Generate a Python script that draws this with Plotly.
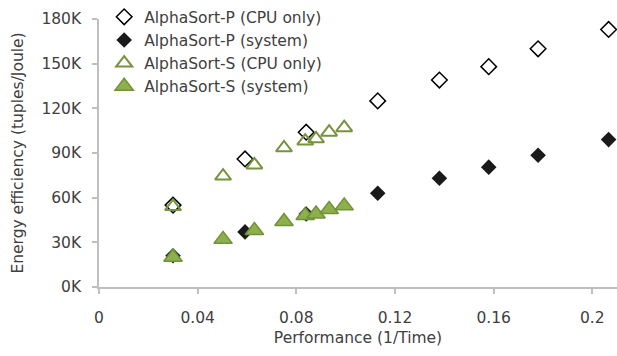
import plotly.graph_objects as go

p_cpu_x = [0.030, 0.0592, 0.084, 0.113, 0.138, 0.158, 0.178, 0.2066]
p_cpu_y = [55, 86, 104, 125, 139, 148, 160, 173]
p_sys_x = [0.030, 0.0592, 0.084, 0.113, 0.138, 0.158, 0.178, 0.2066]
p_sys_y = [21, 37, 49, 63, 73, 80.5, 88.5, 99]
s_cpu_x = [0.030, 0.0503, 0.063, 0.075, 0.0836, 0.088, 0.0933, 0.0994]
s_cpu_y = [54, 74.5, 82, 93.5, 98, 99.5, 104, 107]
s_sys_x = [0.030, 0.0503, 0.063, 0.075, 0.0836, 0.088, 0.0933, 0.0994]
s_sys_y = [20, 32, 38, 44, 48, 49, 52, 54.5]

x_ticks = [0, 0.04, 0.08, 0.12, 0.16, 0.2]
x_tick_labels = ["0", "0.04", "0.08", "0.12", "0.16", "0.2"]
y_ticks = [0, 30, 60, 90, 120, 150, 180]
y_tick_labels = ["0K", "30K", "60K", "90K", "120K", "150K", "180K"]

FONT = "DejaVu Sans"
FS = 15.5
fig = go.Figure()
fig.add_trace(go.Scatter(x=p_cpu_x, y=p_cpu_y, mode="markers", name="AlphaSort-P (CPU only)", cliponaxis=False,
                         marker=dict(symbol="diamond-open", size=12, color="#000000", line=dict(width=1.5))))
fig.add_trace(go.Scatter(x=p_sys_x, y=p_sys_y, mode="markers", name="AlphaSort-P (system)", cliponaxis=False,
                         marker=dict(symbol="diamond", size=12, color="#1a1a1a")))
fig.add_trace(go.Scatter(x=s_cpu_x, y=s_cpu_y, mode="markers", name="AlphaSort-S (CPU only)", cliponaxis=False,
                         marker=dict(symbol="triangle-up-open", size=14, color="#77933C", line=dict(width=2))))
fig.add_trace(go.Scatter(x=s_sys_x, y=s_sys_y, mode="markers", name="AlphaSort-S (system)", cliponaxis=False,
                         marker=dict(symbol="triangle-up", size=16, color="#8DB04C",
                                     line=dict(width=1.5, color="#71923A"))))

fig.update_layout(
    width=617, height=356,
    margin=dict(l=99, r=0, t=12, b=69),
    paper_bgcolor="white", plot_bgcolor="white",
    font=dict(family=FONT, size=FS, color="#404040"),
    showlegend=True,
    legend=dict(x=0.01, y=1.07, xanchor="left", yanchor="top", bgcolor="rgba(0,0,0,0)",
                font=dict(size=FS, color="#404040"), tracegroupgap=0, itemsizing="trace"),
    xaxis=dict(range=[0, 0.21], tickvals=x_ticks, ticktext=x_tick_labels, automargin=False,
               showgrid=False, zeroline=False, showline=True, linecolor="#BFBFBF", linewidth=1.5,
               ticks="outside", ticklen=5, tickcolor="#BFBFBF", tickwidth=1.5,
               ticklabelstandoff=11,
               title=dict(text="Performance (1/Time)", standoff=6, font=dict(size=FS))),
    yaxis=dict(range=[0, 180], tickvals=y_ticks, ticktext=y_tick_labels, automargin=False,
               showgrid=False, zeroline=False, showline=True, linecolor="#BFBFBF", linewidth=1.5,
               ticks="outside", ticklen=5, tickcolor="#BFBFBF", tickwidth=1.5,
               ticklabelstandoff=8,
               title=dict(text="Energy efficiency (tuples/Joule)", standoff=14, font=dict(size=FS))),
)
fig.write_html("out.html", config={"displayModeBar": False},
               post_script="document.body.style.margin='0';document.body.style.overflow='hidden';")
